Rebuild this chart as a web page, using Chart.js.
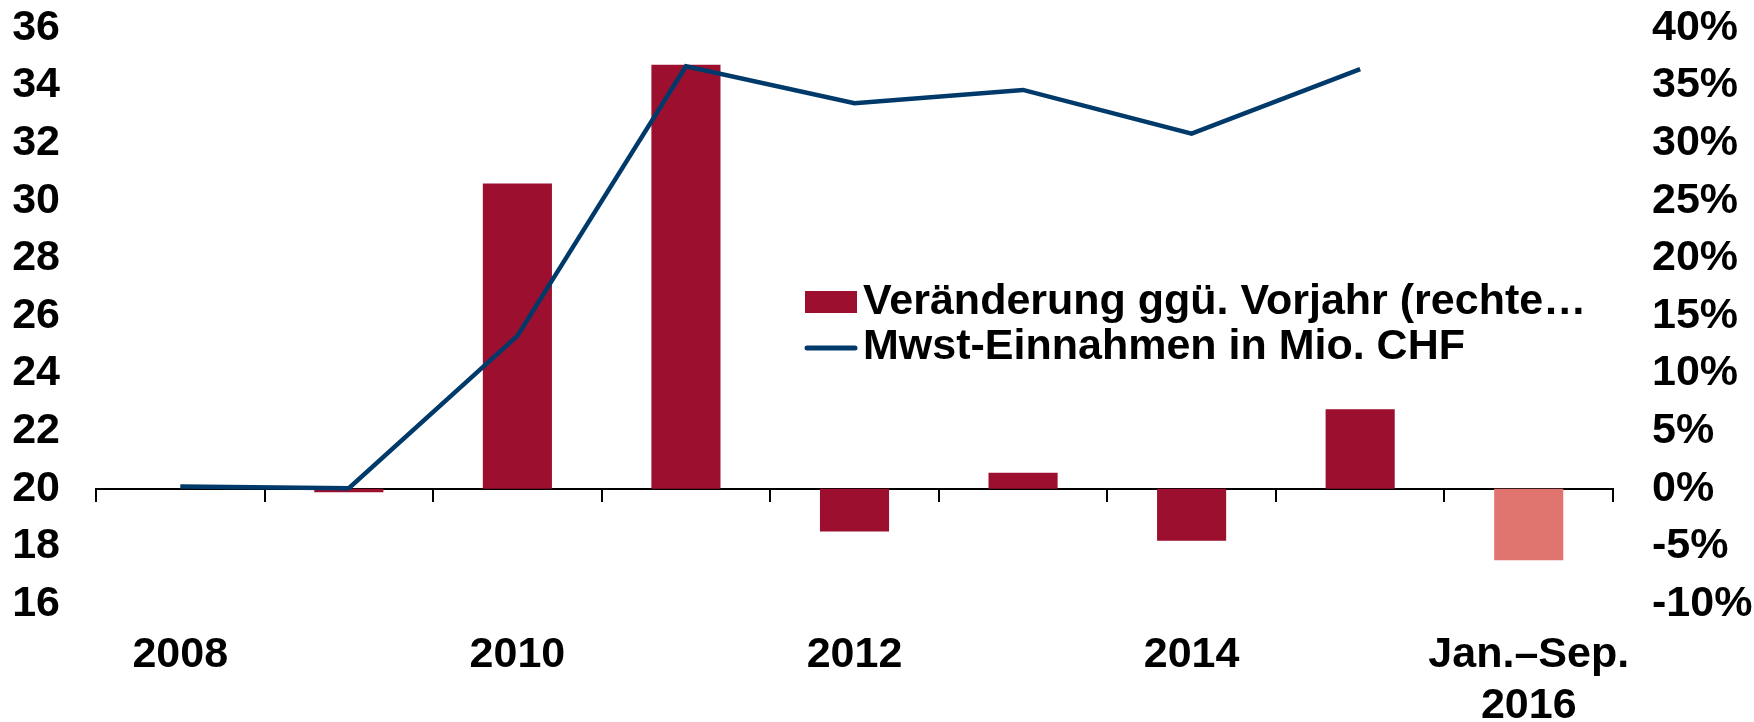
<!DOCTYPE html>
<html>
<head>
<meta charset="utf-8">
<script src="https://cdn.jsdelivr.net/npm/chart.js@4.4.1/dist/chart.umd.min.js"></script>
<style>
html,body{margin:0;padding:0;background:#fff;}
#wrap{width:1754px;height:722px;position:relative;}
</style>
</head>
<body>
<div id="wrap"><canvas id="c" width="1754" height="722"></canvas></div>
<script>
// ---- data ----
const categories = ['2008', '2009', '2010', '2011', '2012', '2013', '2014', '2015', ['Jan.–Sep.', '2016']];
const changePct = [0, -0.3, 26.5, 36.8, -3.7, 1.4, -4.5, 6.9, -6.2];          // right axis, %
const vatRevenue = [20.08, 20.02, 25.31, 34.67, 33.39, 33.85, 32.33, 34.57, null]; // left axis
const seriesNames = ['Veränderung ggü. Vorjahr (rechte…', 'Mwst-Einnahmen in Mio. CHF'];
const leftAxisRange = [16, 36, 2];
const rightAxisRange = [-10, 40, 5];

// ---- style ----
const BAR = '#9C0F2E';
const BAR_LIGHT = '#E07570';
const LINE = '#003A6A';
const FONT = { family: '"Liberation Sans", Arial, sans-serif', size: 43, weight: 'bold', lineHeight: 1.2 };
const barColors = categories.map((c, i) => i === categories.length - 1 ? BAR_LIGHT : BAR);

const insideLegend = {
  id: 'insideLegend',
  afterDraw(chart) {
    const ctx = chart.ctx;
    ctx.save();
    ctx.font = 'bold 43px "Liberation Sans", Arial, sans-serif';
    ctx.textBaseline = 'middle';
    ctx.textAlign = 'left';
    // bar entry
    ctx.fillStyle = BAR;
    ctx.fillRect(805, 291, 52, 22);
    ctx.fillStyle = '#000';
    ctx.fillText(seriesNames[0], 863, 302);
    // line entry
    ctx.strokeStyle = LINE;
    ctx.lineWidth = 5;
    ctx.lineCap = 'round';
    ctx.beginPath();
    ctx.moveTo(807, 348);
    ctx.lineTo(855, 348);
    ctx.stroke();
    ctx.fillText(seriesNames[1], 863, 347);
    ctx.restore();
  }
};

new Chart(document.getElementById('c'), {
  type: 'bar',
  data: {
    labels: categories,
    datasets: [
      {
        type: 'bar',
        label: seriesNames[0],
        data: changePct,
        yAxisID: 'y1',
        xAxisID: 'x',
        backgroundColor: barColors,
        borderWidth: 0,
        barPercentage: 0.41,
        categoryPercentage: 1.0,
        order: 2
      },
      {
        type: 'line',
        label: seriesNames[1],
        data: vatRevenue,
        yAxisID: 'y',
        xAxisID: 'x',
        borderColor: LINE,
        borderWidth: 4.5,
        pointRadius: 0,
        tension: 0,
        fill: false,
        spanGaps: false,
        order: 1
      }
    ]
  },
  options: {
    responsive: false,
    animation: false,
    devicePixelRatio: 1,
    layout: { padding: { top: 28, left: 0, right: 0, bottom: 0 } },
    plugins: {
      legend: { display: false },
      tooltip: { enabled: false },
      title: { display: false }
    },
    scales: {
      x: {
        type: 'category',
        position: 'bottom',
        offset: true,
        grid: { display: false, drawTicks: false },
        border: { display: false },
        ticks: {
          autoSkip: false,
          maxRotation: 0,
          minRotation: 0,
          padding: 25,
          color: '#000',
          font: FONT,
          callback: function (v, i) { return i % 2 === 0 ? this.getLabelForValue(v) : ''; }
        },
        afterFit: s => { s.height = 118; }
      },
      x2: {
        type: 'category',
        axis: 'x',
        position: { y1: 0 },
        offset: true,
        grid: { display: true, drawOnChartArea: false, drawTicks: true, tickLength: 12, color: '#000', lineWidth: 2, offset: true },
        border: { display: true, color: '#000', width: 2 },
        ticks: { display: false }
      },
      y: {
        type: 'linear',
        position: 'left',
        min: leftAxisRange[0],
        max: leftAxisRange[1],
        grid: { display: false, drawTicks: true, tickLength: 36 },
        border: { display: false },
        ticks: { stepSize: leftAxisRange[2], padding: 0, color: '#000', font: FONT },
        afterFit: s => { s.width = 96; }
      },
      y1: {
        type: 'linear',
        position: 'right',
        min: rightAxisRange[0],
        max: rightAxisRange[1],
        grid: { display: false, drawTicks: true, tickLength: 39 },
        border: { display: false },
        ticks: { stepSize: rightAxisRange[2], padding: 0, color: '#000', font: FONT, callback: v => v + '%' },
        afterFit: s => { s.width = 141; }
      }
    }
  },
  plugins: [insideLegend]
});
</script>
</body>
</html>
